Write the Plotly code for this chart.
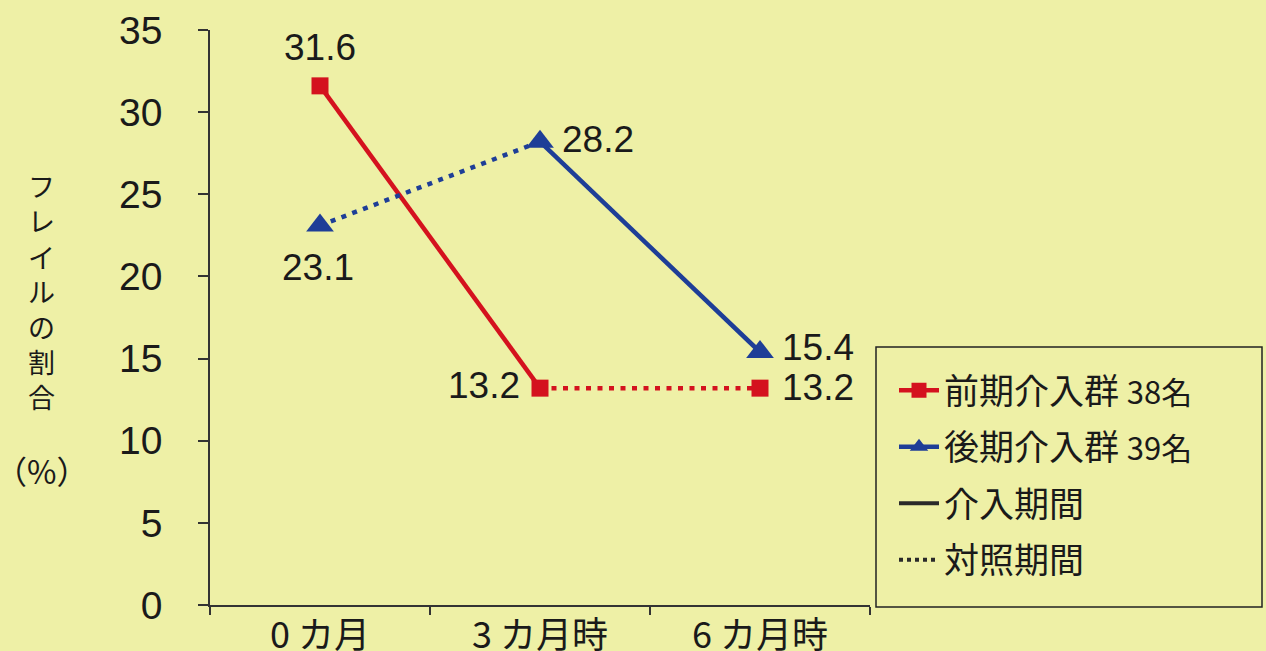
import plotly.graph_objects as go

categories = ["0 カ月", "3 カ月時", "6 カ月時"]
early_group = [31.6, 13.2, 13.2]   # 前期介入群 38名
late_group = [23.1, 28.2, 15.4]    # 後期介入群 39名
early_labels = ["31.6", "13.2", "13.2"]
late_labels = ["23.1", "28.2", "15.4"]
y_ticks = [0, 5, 10, 15, 20, 25, 30, 35]
y_title = "フレイルの割合"
y_unit = "（%）"

RED = "#D4121E"
BLUE = "#1E3E97"
DARK = "#2A2A2A"
TXT = "#1a1a1a"
BG = "#EEF0A6"
NUM_FONT = "Liberation Sans, Arial, sans-serif"
JP_FONT = "Noto Sans CJK JP, sans-serif"
DOT = "5px,6.5px"
LW = 4.5

# plot area in pixels: x 210..870, y 30..605
L, R, T, B = 210, 870, 30, 605
W, H = 1266, 651
def px_x(p):
    return (p - L) / (R - L)
def px_y(p):
    return (B - p) / (B - T)

fig = go.Figure()

# line segments: solid = intervention period, dotted = control period
fig.add_trace(go.Scatter(x=categories[0:2], y=early_group[0:2], mode="lines",
                         line=dict(color=RED, width=LW), showlegend=False, hoverinfo="skip"))
fig.add_trace(go.Scatter(x=categories[1:3], y=early_group[1:3], mode="lines",
                         line=dict(color=RED, width=LW, dash=DOT), showlegend=False, hoverinfo="skip"))
fig.add_trace(go.Scatter(x=categories[0:2], y=late_group[0:2], mode="lines",
                         line=dict(color=BLUE, width=LW, dash=DOT), showlegend=False, hoverinfo="skip"))
fig.add_trace(go.Scatter(x=categories[1:3], y=late_group[1:3], mode="lines",
                         line=dict(color=BLUE, width=LW), showlegend=False, hoverinfo="skip"))

# markers
fig.add_trace(go.Scatter(x=categories, y=early_group, mode="markers",
                         marker=dict(symbol="square", size=17, color=RED),
                         showlegend=False))
fig.add_trace(go.Scatter(x=categories, y=late_group, mode="markers",
                         marker=dict(symbol="triangle-up", size=24, color=BLUE),
                         showlegend=False))

# legend entries
fig.add_trace(go.Scatter(x=[None], y=[None], mode="lines+markers", legendgroup="a",
                         name='前期介入群 <span style="font-size:31px">38名</span>',
                         line=dict(color=RED, width=LW),
                         marker=dict(symbol="square", size=15, color=RED)))
fig.add_trace(go.Scatter(x=[None], y=[None], mode="lines+markers", legendgroup="b",
                         name='後期介入群 <span style="font-size:31px">39名</span>',
                         line=dict(color=BLUE, width=LW),
                         marker=dict(symbol="triangle-up", size=20, color=BLUE)))
fig.add_trace(go.Scatter(x=[None], y=[None], mode="lines", legendgroup="c",
                         name="介入期間", line=dict(color=DARK, width=4)))
fig.add_trace(go.Scatter(x=[None], y=[None], mode="lines", legendgroup="d",
                         name="対照期間", line=dict(color=DARK, width=4, dash="dot")))

# value labels (offsets in px)
label_style = {
    ("e", 0): dict(xanchor="center", xshift=0, yshift=38),
    ("e", 1): dict(xanchor="right", xshift=-18, yshift=3),
    ("e", 2): dict(xanchor="left", xshift=20, yshift=1),
    ("l", 0): dict(xanchor="center", xshift=-2, yshift=-42),
    ("l", 1): dict(xanchor="left", xshift=20, yshift=2),
    ("l", 2): dict(xanchor="left", xshift=20, yshift=5),
}
annotations = []
for key, ys, labels in (("e", early_group, early_labels), ("l", late_group, late_labels)):
    for i, (c, v, t) in enumerate(zip(categories, ys, labels)):
        st = label_style[(key, i)]
        annotations.append(dict(x=c, y=v, xref="x", yref="y", text=t, showarrow=False,
                                yanchor="middle", font=dict(family=NUM_FONT, size=37, color=TXT),
                                **st))

# vertical y-axis title, one character per row
for i, ch in enumerate(y_title):
    annotations.append(dict(text=ch, xref="paper", yref="paper", borderpad=0,
                            x=px_x(41), y=px_y(186 + 35 * i), xanchor="center", yanchor="middle",
                            showarrow=False, font=dict(family=JP_FONT, size=27, color=TXT)))
annotations.append(dict(text=y_unit, xref="paper", yref="paper",
                        x=px_x(41), y=px_y(470), xanchor="center", yanchor="middle",
                        showarrow=False, font=dict(family=JP_FONT, size=32, color=TXT)))

fig.update_layout(
    width=W, height=H,
    margin=dict(l=L, r=W - R, t=T, b=H - B),
    paper_bgcolor=BG, plot_bgcolor=BG,
    showlegend=True,
    legend=dict(x=px_x(894), y=px_y(361), xanchor="left", yanchor="top",
                bgcolor="rgba(0,0,0,0)", borderwidth=0,
                font=dict(family=JP_FONT, size=35, color=TXT),
                traceorder="grouped", tracegroupgap=8, itemwidth=40),
    xaxis=dict(type="category", categoryorder="array", categoryarray=categories,
               range=[-0.5, 2.5], showline=True, linecolor="#333", linewidth=1.5,
               ticks="outside", tickson="boundaries", ticklen=8, tickcolor="#333",
               tickwidth=1.5, showgrid=False, zeroline=False, automargin=False,
               ticklabelstandoff=-2,
               tickfont=dict(family=JP_FONT, size=36, color=TXT)),
    yaxis=dict(range=[0, 35], tickvals=y_ticks, showline=True, linecolor="#333",
               linewidth=1.5, ticks="outside", ticklen=10, tickcolor="#333",
               tickwidth=1.5, showgrid=False, zeroline=False, ticklabelstandoff=28,
               automargin=False,
               tickfont=dict(family=NUM_FONT, size=39, color=TXT)),
    shapes=[dict(type="rect", xref="paper", yref="paper",
                 x0=px_x(876), x1=px_x(1262), y0=px_y(607), y1=px_y(347),
                 line=dict(color="#222", width=1.5), fillcolor="rgba(0,0,0,0)")],
    annotations=annotations,
)

fig.write_html("out.html")
